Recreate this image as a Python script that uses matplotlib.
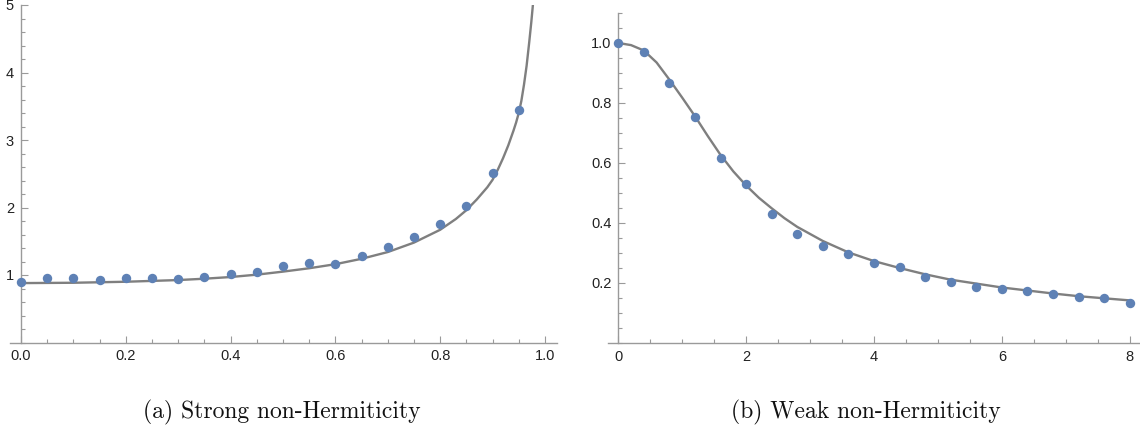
import matplotlib.pyplot as plt
from matplotlib.ticker import MultipleLocator, FixedLocator

# data points
strong_x = [0.0, 0.05, 0.10, 0.15, 0.20, 0.25, 0.30, 0.35, 0.40, 0.45,
            0.50, 0.55, 0.60, 0.65, 0.70, 0.75, 0.80, 0.85, 0.90, 0.95]
strong_y = [0.90, 0.95, 0.96, 0.93, 0.96, 0.95, 0.94, 0.975, 1.015, 1.05,
            1.14, 1.18, 1.16, 1.28, 1.42, 1.57, 1.76, 2.02, 2.51, 3.44]

# theory curve, strong case
strong_cx = [0.0, 0.1, 0.2, 0.3, 0.35, 0.4, 0.45, 0.5, 0.55, 0.6, 0.65, 0.7, 0.75,
             0.8, 0.83, 0.85, 0.87, 0.89, 0.9, 0.91, 0.92, 0.93, 0.94, 0.945, 0.95,
             0.955, 0.96, 0.965, 0.97, 0.974, 0.977]
strong_cy = [0.88, 0.885, 0.90, 0.925, 0.945, 0.97, 1.005, 1.05, 1.10, 1.16, 1.24, 1.34, 1.48,
             1.67, 1.83, 1.96, 2.12, 2.30, 2.41, 2.56, 2.73, 2.92, 3.14, 3.26, 3.40,
             3.58, 3.82, 4.10, 4.45, 4.75, 5.0]

weak_x = [0.0, 0.4, 0.8, 1.2, 1.6, 2.0, 2.4, 2.8, 3.2, 3.6, 4.0,
          4.4, 4.8, 5.2, 5.6, 6.0, 6.4, 6.8, 7.2, 7.6, 8.0]
weak_y = [1.00, 0.969, 0.868, 0.753, 0.616, 0.529, 0.431, 0.364, 0.325, 0.297, 0.266,
          0.253, 0.219, 0.204, 0.186, 0.179, 0.175, 0.163, 0.155, 0.149, 0.135]

# theory curve, weak case
weak_cx = [0.0, 0.2, 0.4, 0.6, 0.8, 1.0, 1.2, 1.4, 1.6, 1.8, 2.0, 2.2, 2.4, 2.6, 2.8, 3.2, 3.6,
           4.0, 4.4, 4.8, 5.2, 5.6, 6.0, 6.4, 6.8, 7.2, 7.6, 8.0]
weak_cy = [1.0, 0.993, 0.975, 0.935, 0.878, 0.818, 0.756, 0.69, 0.627, 0.572, 0.525, 0.484,
           0.449, 0.416, 0.387, 0.34, 0.302, 0.273, 0.25, 0.229, 0.211, 0.198, 0.185, 0.175,
           0.165, 0.156, 0.149, 0.142]

captions = ['(a) Strong non-Hermiticity', '(b) Weak non-Hermiticity']

dot_color = '#5E81B5'
line_color = '#7F7F7F'
axis_color = '#9A9A9A'

plt.rcParams['font.family'] = ['Liberation Sans', 'DejaVu Sans']
plt.rcParams['axes.unicode_minus'] = False

fig = plt.figure(figsize=(11.4, 4.38), dpi=100)
ax1 = fig.add_axes([10 / 1140, 1 - 342.5 / 438, 547 / 1140, 337.5 / 438])
ax2 = fig.add_axes([608 / 1140, 1 - 343 / 438, 532 / 1140, 330 / 438])


def style(ax):
    for s in ['top', 'right']:
        ax.spines[s].set_visible(False)
    for s in ['left', 'bottom']:
        ax.spines[s].set_color(axis_color)
        ax.spines[s].set_linewidth(1.0)
    ax.spines['left'].set_position(('data', 0))
    ax.tick_params(which='both', direction='in', color=axis_color, labelcolor='#222222',
                   labelsize=10.5, width=0.8)
    ax.tick_params(which='major', length=5, pad=5)
    ax.tick_params(which='minor', length=2.8)
    ax.patch.set_alpha(0)


# (a)
ax1.plot(strong_cx, strong_cy, color=line_color, lw=1.7, solid_capstyle='round',
         solid_joinstyle='round', zorder=2)
ax1.scatter(strong_x, strong_y, s=46, color=dot_color, zorder=3, clip_on=False, linewidths=0)
ax1.set_xlim(-0.021, 1.023)
ax1.set_ylim(0, 5)
style(ax1)
ax1.xaxis.set_major_locator(FixedLocator([0, 0.2, 0.4, 0.6, 0.8, 1.0]))
ax1.set_xticklabels(['0.0', '0.2', '0.4', '0.6', '0.8', '1.0'])
ax1.xaxis.set_minor_locator(MultipleLocator(0.05))
ax1.yaxis.set_major_locator(FixedLocator([1, 2, 3, 4, 5]))
ax1.yaxis.set_minor_locator(MultipleLocator(0.2))

# (b)
ax2.plot(weak_cx, weak_cy, color=line_color, lw=1.7, solid_capstyle='round',
         solid_joinstyle='round', zorder=2)
ax2.scatter(weak_x, weak_y, s=46, color=dot_color, zorder=3, clip_on=False, linewidths=0)
ax2.set_xlim(-0.16, 8.16)
ax2.set_ylim(0, 1.1)
style(ax2)
ax2.xaxis.set_major_locator(FixedLocator([0, 2, 4, 6, 8]))
ax2.xaxis.set_minor_locator(MultipleLocator(0.5))
ax2.yaxis.set_major_locator(FixedLocator([0.2, 0.4, 0.6, 0.8, 1.0]))
ax2.set_yticklabels(['0.2', '0.4', '0.6', '0.8', '1.0'])
ax2.yaxis.set_minor_locator(MultipleLocator(0.05))

for xc, txt in zip([282 / 1140, 866 / 1140], captions):
    fig.text(xc, 1 - 412 / 438, txt, ha='center', va='center', fontsize=17,
             family=['cmr10', 'DejaVu Serif'], color='#111111')

fig.savefig('out.png', dpi=100)
